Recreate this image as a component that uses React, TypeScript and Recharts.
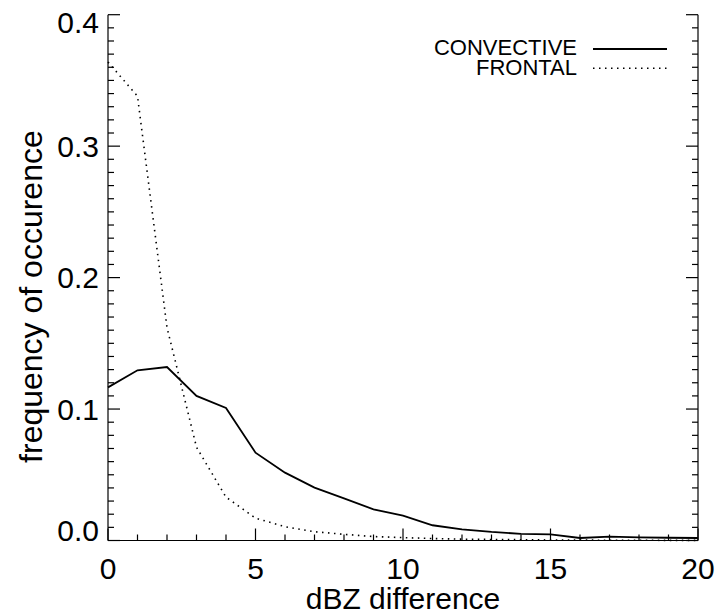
import { LineChart, Line, XAxis, YAxis, Label, Customized } from 'recharts';

// dBZ difference bins
const dbzBins = [0, 1, 2, 3, 4, 5, 6, 7, 8, 9, 10, 11, 12, 13, 14, 15, 16, 17, 18, 19, 20];

// frequency of occurence
const convective = [
  0.1165, 0.1295, 0.132, 0.11, 0.1008, 0.0668, 0.0516, 0.0402, 0.0321, 0.0237, 0.0189,
  0.0116, 0.0085, 0.0065, 0.0051, 0.0047, 0.0019, 0.0029, 0.0024, 0.0021, 0.0019,
];
const frontal = [
  0.364, 0.338, 0.162, 0.071, 0.033, 0.017, 0.0105, 0.0067, 0.0047, 0.003, 0.0022,
  0.0015, 0.001, 0.0008, 0.0006, 0.0004, 0.0003, 0.0002, 0.0002, 0.0001, 0.0001,
];

const seriesNames = ['CONVECTIVE', 'FRONTAL'];
const xMajorTicks = [0, 5, 10, 15, 20];
const yMajorTicks = [0, 0.1, 0.2, 0.3, 0.4];
const yLabels = ['0.0', '0.1', '0.2', '0.3', '0.4'];
const xMinorTicks = dbzBins;
const yMinorTicks = Array.from({ length: 41 }, (_, i) => i / 100);

const data = dbzBins.map((d, i) => ({ dbz: d, convective: convective[i], frontal: frontal[i] }));

const FONT = '"Liberation Sans", Arial, Helvetica, sans-serif';
const DOTTED = '1.5 4.5';
const TICK_W = 1.2;
const TICK_C = '#000';

const majorIndex = (v: number, list: number[]) => list.findIndex(m => Math.abs(m - v) < 1e-6);

const BottomTick = (props: any) => {
  const { x, y, payload } = props;
  const major = majorIndex(payload.value, xMajorTicks) >= 0;
  return (
    <g>
      <path d={`M${x},${y}V${y - (major ? 12 : 6)}`} stroke={TICK_C} strokeWidth={TICK_W} fill="none" />
      {major && (
        <text x={x} y={y + 38} textAnchor="middle" fontSize={30} fontFamily={FONT} fill="#000">
          {payload.value}
        </text>
      )}
    </g>
  );
};

const TopTick = (props: any) => {
  const { x, y, payload } = props;
  const major = majorIndex(payload.value, xMajorTicks) >= 0;
  return <path d={`M${x},${y}V${y + (major ? 12 : 6)}`} stroke={TICK_C} strokeWidth={TICK_W} fill="none" />;
};

const LeftTick = (props: any) => {
  const { x, y, payload } = props;
  const idx = majorIndex(payload.value, yMajorTicks);
  const major = idx >= 0;
  // IDL nudges the end labels inward
  let shift = 0;
  if (idx === 0) shift = -10;
  if (idx === yMajorTicks.length - 1) shift = 8;
  return (
    <g>
      <path d={`M${x},${y}H${x + (major ? 12 : 6)}`} stroke={TICK_C} strokeWidth={TICK_W} fill="none" />
      {major && (
        <text x={x - 9} y={y + 10.5 + shift} textAnchor="end" fontSize={30} fontFamily={FONT} fill="#000">
          {yLabels[idx]}
        </text>
      )}
    </g>
  );
};

const RightTick = (props: any) => {
  const { x, y, payload } = props;
  const major = majorIndex(payload.value, yMajorTicks) >= 0;
  return <path d={`M${x},${y}H${x - (major ? 12 : 6)}`} stroke={TICK_C} strokeWidth={TICK_W} fill="none" />;
};

const XTitle = (props: any) => {
  const { x, y, width } = props.viewBox;
  return (
    <text x={x + width / 2} y={y + 68.5} textAnchor="middle" fontSize={30} fontFamily={FONT} fill="#000">
      dBZ difference
    </text>
  );
};

const YTitle = (props: any) => {
  const { y, height } = props.viewBox;
  const cx = 42;
  const cy = y + height / 2 + 19;
  return (
    <text
      x={cx}
      y={cy}
      transform={`rotate(-90, ${cx}, ${cy})`}
      textAnchor="middle"
      fontSize={32}
      fontFamily={FONT}
      fill="#000"
    >
      frequency of occurence
    </text>
  );
};

const LegendBox = () => (
  <g fontFamily={FONT} fontSize={22} fill="#000">
    <text x={577} y={54.5} textAnchor="end">{seriesNames[0]}</text>
    <line x1={593} x2={667} y1={49} y2={49} stroke="#000" strokeWidth={1.8} />
    <text x={577} y={74.5} textAnchor="end">{seriesNames[1]}</text>
    <line x1={593} x2={667} y1={68.3} y2={68.3} stroke="#000" strokeWidth={1.6} strokeDasharray={DOTTED} />
  </g>
);

export default function App() {
  return (
    <div style={{ position: 'absolute', left: 0, top: 0, width: 716, height: 614, background: '#fff' }}>
      <LineChart width={716} height={614} data={data} margin={{ top: 14.7, right: 0, bottom: 0, left: 8 }}>
        <XAxis
          xAxisId="bottom"
          dataKey="dbz"
          type="number"
          domain={[0, 20]}
          ticks={xMinorTicks}
          interval={0}
          height={73.5}
          tickSize={0}
          tickMargin={0}
          tick={<BottomTick />}
          axisLine={{ stroke: '#000', strokeWidth: 1.2 }}
        >
          <Label content={<XTitle />} />
        </XAxis>
        <XAxis
          xAxisId="top"
          orientation="top"
          dataKey="dbz"
          type="number"
          domain={[0, 20]}
          ticks={xMinorTicks}
          interval={0}
          height={0}
          tickSize={0}
          tickMargin={0}
          tick={<TopTick />}
          axisLine={{ stroke: '#000', strokeWidth: 1.2 }}
        />
        <YAxis
          yAxisId="left"
          type="number"
          domain={[0, 0.4]}
          ticks={yMinorTicks}
          interval={0}
          width={100}
          tickSize={0}
          tickMargin={0}
          tick={<LeftTick />}
          axisLine={{ stroke: '#000', strokeWidth: 1.2 }}
        >
          <Label content={<YTitle />} />
        </YAxis>
        <YAxis
          yAxisId="right"
          orientation="right"
          type="number"
          domain={[0, 0.4]}
          ticks={yMinorTicks}
          interval={0}
          width={18}
          tickSize={0}
          tickMargin={0}
          tick={<RightTick />}
          axisLine={{ stroke: '#000', strokeWidth: 1.2 }}
        />
        <Line
          xAxisId="bottom"
          yAxisId="left"
          dataKey="convective"
          name={seriesNames[0]}
          stroke="#000"
          strokeWidth={1.8}
          dot={false}
          isAnimationActive={false}
        />
        {/* same domains as bottom/left, bound here so the top and right axes get their ticks */}
        <Line
          xAxisId="top"
          yAxisId="right"
          dataKey="frontal"
          name={seriesNames[1]}
          stroke="#000"
          strokeWidth={1.6}
          strokeDasharray={DOTTED}
          dot={false}
          isAnimationActive={false}
        />
        <Customized component={LegendBox} />
      </LineChart>
    </div>
  );
}
